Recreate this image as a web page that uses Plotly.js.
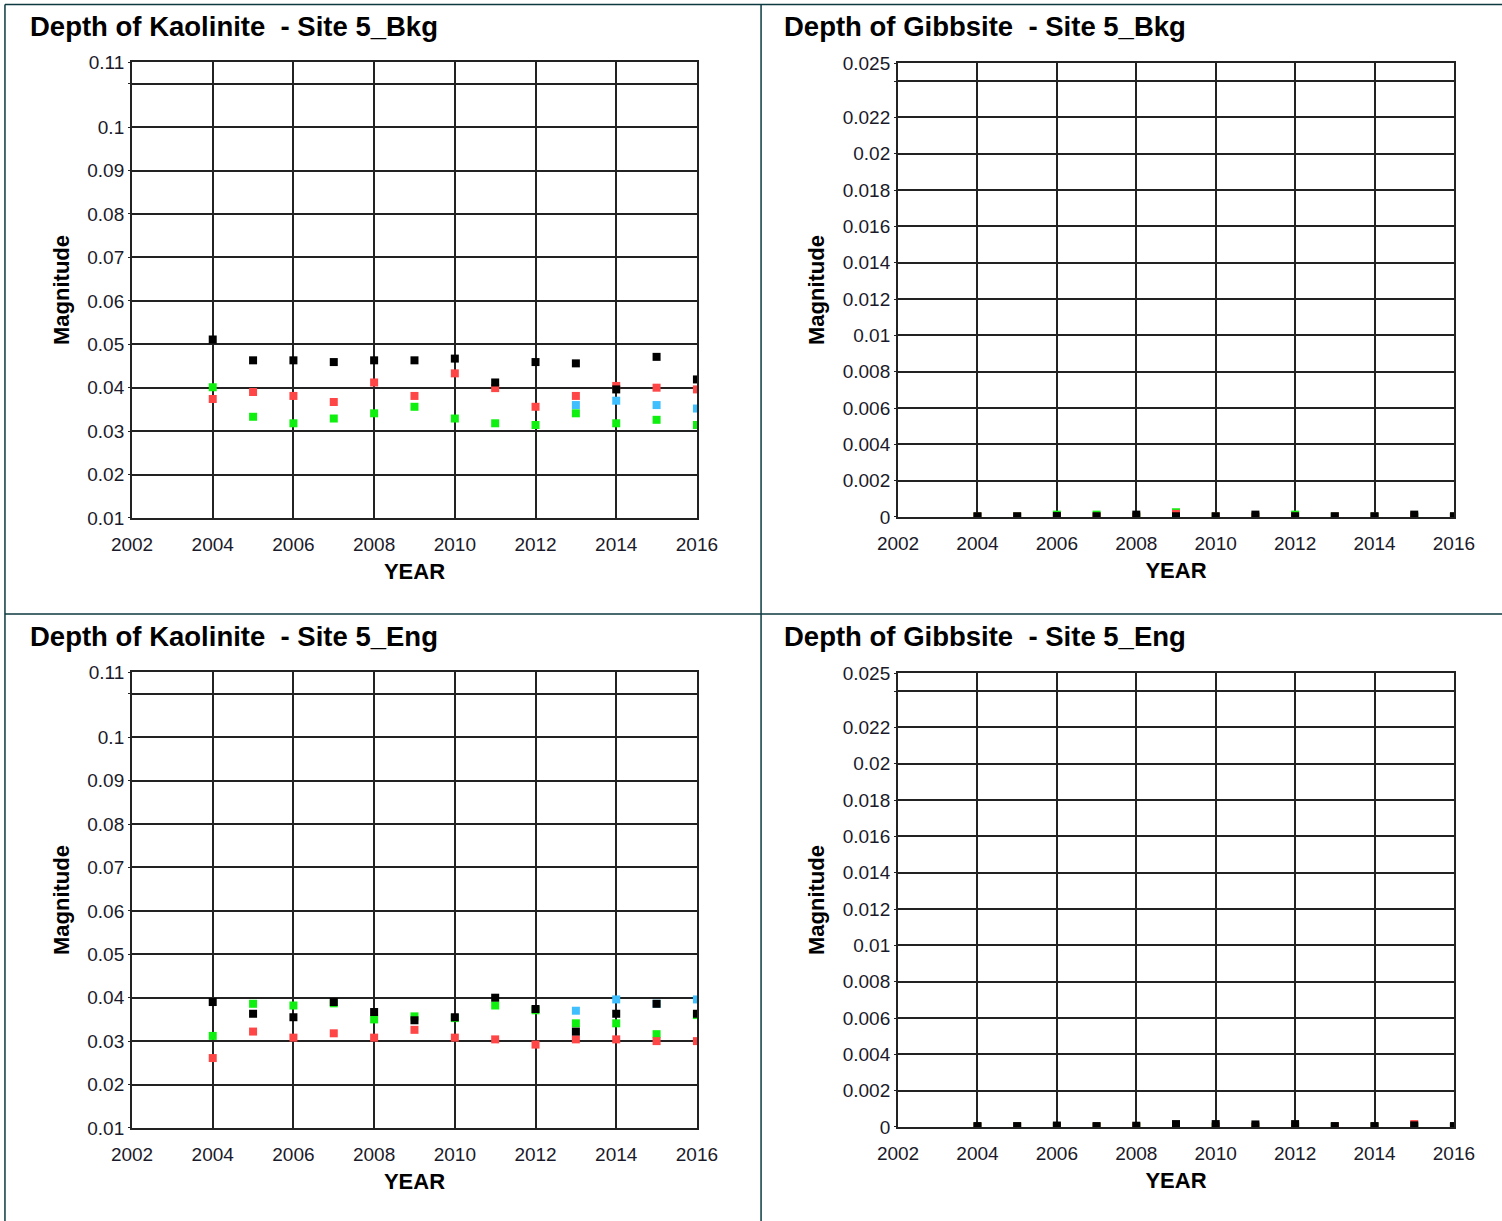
<!DOCTYPE html>
<html>
<head>
<meta charset="utf-8">
<script src="https://cdn.plot.ly/plotly-3.0.1.min.js"></script>
<style>html,body{margin:0;padding:0;background:#fff;}#chart{width:1502px;height:1221px;}</style>
</head>
<body>
<div id="chart"></div>
<script>
// ---------- data ----------
const years = [2004, 2005, 2006, 2007, 2008, 2009, 2010, 2011, 2012, 2013, 2014, 2015, 2016];
const blueYears = [2013, 2014, 2015, 2016];

// Kaolinite - Site 5_Bkg
const kaoBkgBlack = [0.0511, 0.0463, 0.0463, 0.0459, 0.0463, 0.0463, 0.0467, 0.0412, 0.0459, 0.0456, 0.0396, 0.0471, 0.0419];
const kaoBkgRed   = [0.0374, 0.0390, 0.0381, 0.0367, 0.0412, 0.0381, 0.0433, 0.0399, 0.0356, 0.0381, 0.0404, 0.0400, 0.0396];
const kaoBkgGreen = [0.0401, 0.0333, 0.0318, 0.0329, 0.0341, 0.0356, 0.0329, 0.0318, 0.0314, 0.0341, 0.0318, 0.0326, 0.0314];
const kaoBkgBlue  = [0.0360, 0.0370, 0.0360, 0.0352];

// Kaolinite - Site 5_Eng
const kaoEngBlack = [0.0390, 0.0363, 0.0355, 0.0390, 0.0367, 0.0348, 0.0355, 0.0400, 0.0374, 0.0322, 0.0363, 0.0386, 0.0363];
const kaoEngRed   = [0.0261, 0.0322, 0.0308, 0.0318, 0.0308, 0.0326, 0.0308, 0.0304, 0.0292, 0.0304, 0.0304, 0.0300, 0.0300];
const kaoEngGreen = [0.0312, 0.0386, 0.0382, 0.0387, 0.0350, 0.0357, 0.0353, 0.0382, 0.0371, 0.0341, 0.0341, 0.0316, 0.0360];
const kaoEngBlue  = [0.0370, 0.0396, 0.0386, 0.0396];

// Gibbsite - Site 5_Bkg
const gibBkgBlack = [0.00004, 0.00004, 0.00005, 0.00004, 0.00013, 0.00004, 0.00004, 0.00013, 0.00004, 0.00004, 0.00004, 0.00013, 0.00004];
const gibBkgRed   = [0.00002, 0.00002, 0.00002, 0.00002, 0.00002, 0.00017, 0.00002, 0.00002, 0.00002, 0.00002, 0.00002, 0.00002, 0.00002];
const gibBkgGreen = [0.00002, 0.00002, 0.00013, 0.00013, 0.00002, 0.00026, 0.00002, 0.00002, 0.00013, 0.00002, 0.00002, 0.00002, 0.00002];
const gibBkgBlue  = [0.00002, 0.00002, 0.00002, 0.00002];

// Gibbsite - Site 5_Eng
const gibEngBlack = [0.00005, 0.00005, 0.00008, 0.00005, 0.00007, 0.00016, 0.00016, 0.00014, 0.00016, 0.00005, 0.00005, 0.00009, 0.00005];
const gibEngRed   = [0.00002, 0.00002, 0.00002, 0.00002, 0.00002, 0.00002, 0.00002, 0.00002, 0.00002, 0.00002, 0.00002, 0.00016, 0.00002];
const gibEngGreen = [0.00002, 0.00002, 0.00002, 0.00002, 0.00002, 0.00002, 0.00002, 0.00002, 0.00002, 0.00002, 0.00002, 0.00002, 0.00002];
const gibEngBlue  = [0.00002, 0.00002, 0.00002, 0.00002];

// tick labels
const xTickVals = [2002, 2004, 2006, 2008, 2010, 2012, 2014, 2016];
const kaoTickVals = [0.01, 0.02, 0.03, 0.04, 0.05, 0.06, 0.07, 0.08, 0.09, 0.10, 0.11, 0.115];
const kaoTickText = ['0.01', '0.02', '0.03', '0.04', '0.05', '0.06', '0.07', '0.08', '0.09', '0.1', '', '0.11'];
const gibTickVals = [0, 0.002, 0.004, 0.006, 0.008, 0.01, 0.012, 0.014, 0.016, 0.018, 0.02, 0.022, 0.024, 0.025];
const gibTickText = ['0', '0.002', '0.004', '0.006', '0.008', '0.01', '0.012', '0.014', '0.016', '0.018', '0.02', '0.022', '', '0.025'];

const titles = [
  'Depth of Kaolinite\u00a0 - Site 5_Bkg',
  'Depth of Gibbsite\u00a0 - Site 5_Bkg',
  'Depth of Kaolinite\u00a0 - Site 5_Eng',
  'Depth of Gibbsite\u00a0 - Site 5_Eng'
];

// ---------- styles ----------
const COLORS = {blue: '#40bfff', green: '#10f010', red: '#ff4646', black: '#000000'};
const FONT = 'Liberation Sans, Arial, sans-serif';
const GRID = '#222';

function series(xs, ys, color, name, ax) {
  return {
    type: 'scatter', mode: 'markers', x: xs, y: ys, name: name,
    xaxis: 'x' + ax, yaxis: 'y' + ax, showlegend: false,
    marker: {symbol: 'square', size: 8, color: color, line: {width: 0}},
    hoverinfo: 'x+y'
  };
}
function panel(ax, black, red, green, blue) {
  return [
    series(blueYears, blue, COLORS.blue, 'Series 4', ax),
    series(years, green, COLORS.green, 'Series 3', ax),
    series(years, red, COLORS.red, 'Series 2', ax),
    series(years, black, COLORS.black, 'Series 1', ax)
  ];
}

const data = [].concat(
  panel('', kaoBkgBlack, kaoBkgRed, kaoBkgGreen, kaoBkgBlue),
  panel('2', gibBkgBlack, gibBkgRed, gibBkgGreen, gibBkgBlue),
  panel('3', kaoEngBlack, kaoEngRed, kaoEngGreen, kaoEngBlue),
  panel('4', gibEngBlack, gibEngRed, gibEngGreen, gibEngBlue)
);

function xAxis(domain, anchor) {
  return {
    domain: domain, anchor: anchor, range: [2002, 2016], tickvals: xTickVals,
    ticktext: xTickVals.map(String), showgrid: true, gridcolor: GRID, gridwidth: 2,
    zeroline: false, showline: true, mirror: true, linecolor: GRID, linewidth: 2,
    ticks: '', ticklabelstandoff: 8,
    tickfont: {family: FONT, size: 19, color: '#1a1a2a'},
    title: {text: 'YEAR', standoff: 10, font: {family: FONT, size: 22, color: '#000', weight: 700}}
  };
}
function yAxis(domain, anchor, range, vals, text) {
  return {
    domain: domain, anchor: anchor, range: range, tickvals: vals, ticktext: text,
    showgrid: true, gridcolor: GRID, gridwidth: 2,
    zeroline: false, showline: true, mirror: true, linecolor: GRID, linewidth: 2,
    ticks: 'outside', ticklen: 2, tickcolor: GRID, ticklabelstandoff: 0,
    tickfont: {family: FONT, size: 19, color: '#1a1a2a'},
    title: {text: 'Magnitude', standoff: 12, font: {family: FONT, size: 22, color: '#000', weight: 700}}
  };
}

const LX = [0.0879, 0.4640], RX = [0.5979, 0.9680];
const TY = [0.5758, 0.9492], BY = [0.0762, 0.4496];
const TRY = [0.5766, 0.9484], BRY = [0.0770, 0.4488];

const BORDER = '#0d3a40';
const layout = {
  width: 1502, height: 1221,
  margin: {l: 0, r: 0, t: 0, b: 0},
  paper_bgcolor: '#fff', plot_bgcolor: '#fff',
  showlegend: false,
  xaxis: xAxis(LX, 'y'),
  yaxis: yAxis(TY, 'x', [0.01, 0.115], kaoTickVals, kaoTickText),
  xaxis2: xAxis(RX, 'y2'),
  yaxis2: yAxis(TRY, 'x2', [0, 0.025], gibTickVals, gibTickText),
  xaxis3: xAxis(LX, 'y3'),
  yaxis3: yAxis(BY, 'x3', [0.01, 0.115], kaoTickVals, kaoTickText),
  xaxis4: xAxis(RX, 'y4'),
  yaxis4: yAxis(BRY, 'x4', [0, 0.025], gibTickVals, gibTickText),
  annotations: [
    [titles[0], 0.0185, 0.9780],
    [titles[1], 0.5205, 0.9780],
    [titles[2], 0.0185, 0.4784],
    [titles[3], 0.5205, 0.4784]
  ].map(a => ({
    text: a[0], xref: 'paper', yref: 'paper', x: a[1], y: a[2],
    xanchor: 'left', yanchor: 'middle', showarrow: false,
    font: {family: FONT, size: 27.5, color: '#000', weight: 700}
  })),
  shapes: [
    {type: 'line', xref: 'paper', yref: 'paper', x0: 0.0033, x1: 1, y0: 0.9963, y1: 0.9963, line: {color: BORDER, width: 1.5}},
    {type: 'line', xref: 'paper', yref: 'paper', x0: 0.0033, x1: 0.0033, y0: 0, y1: 0.9963, line: {color: BORDER, width: 1.5}},
    {type: 'line', xref: 'paper', yref: 'paper', x0: 0.0033, x1: 1, y0: 0.4971, y1: 0.4971, line: {color: BORDER, width: 1.5}},
    {type: 'line', xref: 'paper', yref: 'paper', x0: 0.5067, x1: 0.5067, y0: 0, y1: 0.9963, line: {color: BORDER, width: 1.5}}
  ]
};

Plotly.newPlot('chart', data, layout, {displayModeBar: false, staticPlot: true});
</script>
</body>
</html>
